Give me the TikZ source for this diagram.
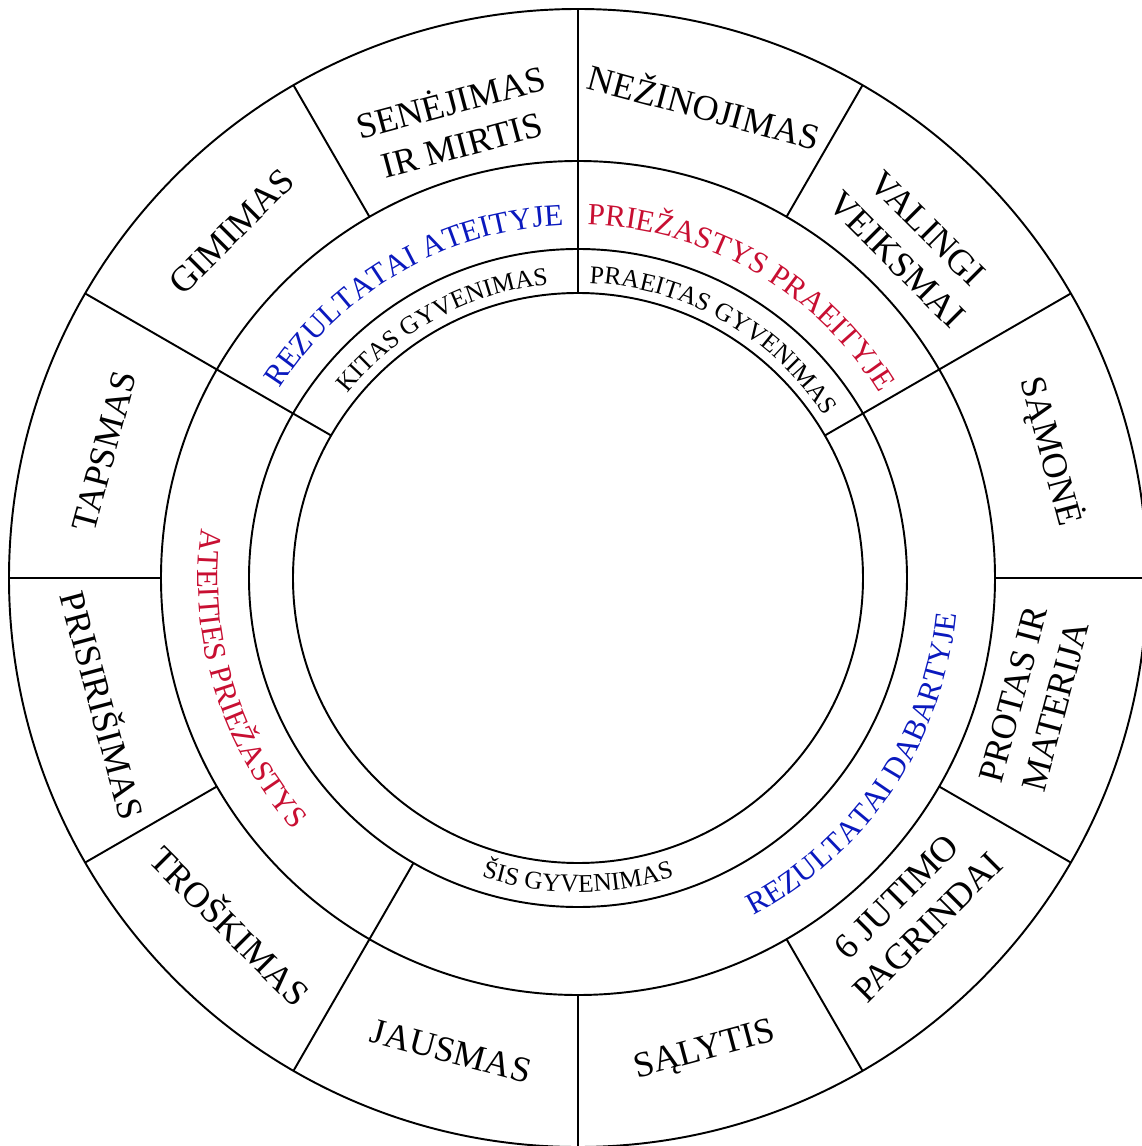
\documentclass[tikz,border=0pt]{standalone}
\usepackage{fontspec}
\setmainfont{Liberation Serif}
\usepackage{xcolor}
\usepackage{tikz}
\usetikzlibrary{decorations.text}
\definecolor{resultblue}{RGB}{10,25,190}
\definecolor{causered}{RGB}{200,15,50}
\newcommand{\outersize}{\fontsize{20.5}{25}\selectfont}
\newcommand{\midsize}{\fontsize{17.5}{21}\selectfont}
\newcommand{\innersize}{\fontsize{14.5}{17}\selectfont}
\tikzstyle{ring} = [line width=1.1pt]
\tikzstyle{divider} = [line width=1.1pt]
\tikzstyle{link} = [font=\outersize, align=center, inner sep=0pt]
\tikzstyle{arclabel} = [decorate, decoration={text along path, text align=center}]

\begin{document}
\begin{tikzpicture}
\useasboundingbox (-11.56,-11.36) rectangle (11.28,11.56);

\draw [ring] (0,0) circle (11.38);
\draw [ring] (0,0) circle (8.34);
\draw [ring] (0,0) circle (6.58);
\draw [ring] (0,0) circle (5.70);

\draw [divider] (0:8.34) -- (0:11.38);
\draw [divider] (30:5.70) -- (30:11.38);
\draw [divider] (60:8.34) -- (60:11.38);
\draw [divider] (90:5.70) -- (90:11.38);
\draw [divider] (120:8.34) -- (120:11.38);
\draw [divider] (150:5.70) -- (150:11.38);
\draw [divider] (180:8.34) -- (180:11.38);
\draw [divider] (210:8.34) -- (210:11.38);
\draw [divider] (240:6.58) -- (240:11.38);
\draw [divider] (270:8.34) -- (270:11.38);
\draw [divider] (300:8.34) -- (300:11.38);
\draw [divider] (330:8.34) -- (330:11.38);

\node (samone) [link, rotate=-75] at (15:9.8) {SĄMONĖ};
\node (valingi) [link, rotate=-45] at (45:9.45) {VALINGI\\VEIKSMAI};
\node (nezinojimas) [link, rotate=-15] at (75:9.8) {NEŽINOJIMAS};
\node (senejimas) [link, rotate=15] at (105:9.45) {SENĖJIMAS\\IR MIRTIS};
\node (gimimas) [link, rotate=45] at (135:9.8) {GIMIMAS};
\node (tapsmas) [link, rotate=75] at (165:9.8) {TAPSMAS};
\node (prisirisimas) [link, rotate=-75] at (195:9.8) {PRISIRIŠIMAS};
\node (troskimas) [link, rotate=-45] at (225:9.8) {TROŠKIMAS};
\node (jausmas) [link, rotate=-15] at (255:9.8) {JAUSMAS};
\node (salytis) [link, rotate=15] at (285:9.8) {SĄLYTIS};
\node (jutimai) [link, rotate=45] at (315:9.45) {6 JUTIMO\\PAGRINDAI};
\node (protas) [link, rotate=75] at (345:9.45) {PROTAS IR\\MATERIJA};

\path [arclabel, decoration={text={|\midsize|REZULTATAI ATEITYJE}, text color=resultblue}] (165:7.06) arc [start angle=165, end angle=75, radius=7.06];
\path [arclabel, decoration={text={|\midsize|PRIEŽASTYS PRAEITYJE}, text color=causered}] (105:7.06) arc [start angle=105, end angle=15, radius=7.06];
\path [arclabel, decoration={text={|\midsize|ATEITIES PRIEŽASTYS}, text color=causered}] (152:7.6) arc [start angle=152, end angle=242, radius=7.6];
\path [arclabel, decoration={text={|\midsize|REZULTATAI DABARTYJE}, text color=resultblue}] (-79:7.6) arc [start angle=-79, end angle=11, radius=7.6];

\path [arclabel, decoration={text={|\innersize|KITAS GYVENIMAS}}] (163.5:5.9) arc [start angle=163.5, end angle=73.5, radius=5.9];
\path [arclabel, decoration={text={|\innersize|PRAEITAS GYVENIMAS}}] (105.5:5.9) arc [start angle=105.5, end angle=15.5, radius=5.9];
\path [arclabel, decoration={text={|\innersize|ŠIS GYVENIMAS}}] (225:6.28) arc [start angle=225, end angle=315, radius=6.28];
\end{tikzpicture}
\end{document}
